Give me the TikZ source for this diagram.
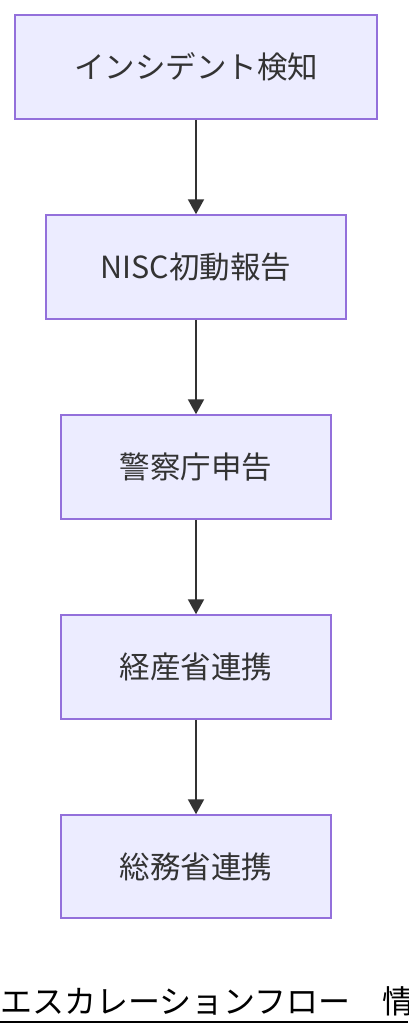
\documentclass[tikz,border=0pt]{standalone}
\usepackage{fontspec}
\setmainfont{Noto Sans CJK JP}
\usetikzlibrary{arrows.meta}
\definecolor{nodefill}{HTML}{ECECFF}
\definecolor{nodeline}{HTML}{9370DB}
\definecolor{txt}{HTML}{333333}
\begin{document}
\begin{tikzpicture}[x=1pt,y=-1pt,
  box/.style={draw=nodeline,fill=nodefill,line width=1.5pt,minimum height=104pt,inner sep=0pt,
    text=txt,font=\fontsize{30.5}{36}\selectfont},
  conn/.style={draw=txt,line width=2pt,-{Triangle[width=16pt,length=15pt]}}]
\useasboundingbox (0,0) rectangle (408,1036);
\clip (0,0) rectangle (408,1036);
\node[box,minimum width=362pt] (a) at (196,67) {インシデント検知};
\node[box,minimum width=300pt] (b) at (196,267) {NISC初動報告};
\node[box,minimum width=270pt] (c) at (196,467) {警察庁申告};
\node[box,minimum width=270pt] (d) at (196,667) {経産省連携};
\node[box,minimum width=270pt,minimum height=103pt] (e) at (196,866.5) {総務省連携};
\draw[conn] (a) -- (b);
\draw[conn] (b) -- (c);
\draw[conn] (c) -- (d);
\draw[conn] (d) -- (e);
\node[anchor=base west,inner sep=0pt,font=\fontsize{32}{38}\selectfont] (t) at (0,1013) {エスカレーションフロー　情};
\coordinate (ul) at (0,1021.5);
\coordinate (ur) at (408,1021.5);
\draw[line width=2pt] (ul) -- (ur);
\end{tikzpicture}
\end{document}
